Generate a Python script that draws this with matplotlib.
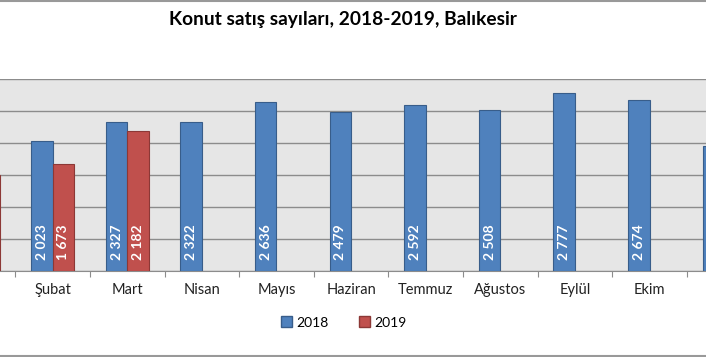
import numpy as np
import matplotlib
matplotlib.use('Agg')
import matplotlib.pyplot as plt
from matplotlib.lines import Line2D
from matplotlib.patches import Patch

# aylar ve satış sayıları (görünmeyenler nan)
months = ['Ocak', 'Şubat', 'Mart', 'Nisan', 'Mayıs', 'Haziran', 'Temmuz',
          'Ağustos', 'Eylül', 'Ekim', 'Kasım', 'Aralık']
sales_2018 = [np.nan, 2023, 2327, 2322, 2636, 2479, 2592, 2508, 2777, 2674, 1950, np.nan]
sales_2019 = [1490, 1673, 2182, np.nan, np.nan, np.nan, np.nan, np.nan, np.nan, np.nan, np.nan, np.nan]

plt.rcParams['font.family'] = ['Lato', 'DejaVu Sans']

blue = '#4f81bd'
red = '#c0504d'
w = 0.288

fig = plt.figure(figsize=(7.06, 3.57), dpi=100)
# grafik alanı resmin dışına taşıyor (kırpılmış görüntü)
ax = fig.add_axes([-59.2/706, (357-270.7)/357, 895.2/706, 192/357])
ax.set_facecolor('#e6e6e6')

x = np.arange(len(months))
ax.bar(x - w/2, sales_2018, w, color=blue, edgecolor='#385d8a', linewidth=0.8, zorder=3)
ax.bar(x + w/2, sales_2019, w, color=red, edgecolor='#8c3836', linewidth=0.8, zorder=3)

ax.set_xlim(-0.5, 11.5)
ax.set_ylim(0, 3000)


def fmt(v):
    return '{:,}'.format(int(v)).replace(',', ' ')


# etiketler: sadece resimde görünen çubuklara
for xs, vals in ((x - w/2, sales_2018), (x + w/2, sales_2019)):
    for xi, v in zip(xs, vals):
        if np.isnan(v):
            continue
        px = ax.transData.transform((xi, 0))[0]
        if px < 8 or px > 698:
            continue
        ax.annotate(fmt(v), (xi, 0), xytext=(0, 7.5), textcoords='offset points',
                    rotation=90, ha='center', va='bottom', color='white',
                    fontsize=10, fontweight='bold', zorder=4)

ax.set_yticks(np.arange(0, 3001, 500))
ax.yaxis.grid(True, color='#8c8c8c', linewidth=1.0, zorder=0)
ax.set_yticklabels([])
ax.tick_params(axis='y', length=0)

ax.set_xticks(np.arange(-0.5, 12, 1))
ax.set_xticklabels([])
ax.set_xticks(x[1:10], minor=True)
ax.set_xticklabels(months[1:10], minor=True, fontsize=10.5, color='#222222')
ax.tick_params(axis='x', which='major', length=4, color='#8c8c8c', direction='out')
ax.tick_params(axis='x', which='minor', length=0, pad=9)

for s in ('left', 'right', 'top'):
    ax.spines[s].set_visible(False)
ax.spines['bottom'].set_color('#8c8c8c')

fig.text(343/706, 1 - 20/357, 'Konut satış sayıları, 2018-2019, Balıkesir',
         ha='center', va='center', fontsize=13.8, fontweight='bold')

handles = [Patch(facecolor=blue, edgecolor='#385d8a', label='2018'),
           Patch(facecolor=red, edgecolor='#8c3836', label='2019')]
fig.legend(handles=handles, loc='center', bbox_to_anchor=(344/706, 1 - 322.5/357),
           ncol=2, frameon=False, fontsize=10, handlelength=0.8, handleheight=0.8,
           handletextpad=0.3, columnspacing=2.2)

# çerçeve çizgileri
fig.add_artist(Line2D([0, 1], [1 - 0.5/357, 1 - 0.5/357], color='#999999', linewidth=1.5))
fig.add_artist(Line2D([0, 1], [1 - 356/357, 1 - 356/357], color='#999999', linewidth=1.5))

plt.savefig('out.png', dpi=100)
